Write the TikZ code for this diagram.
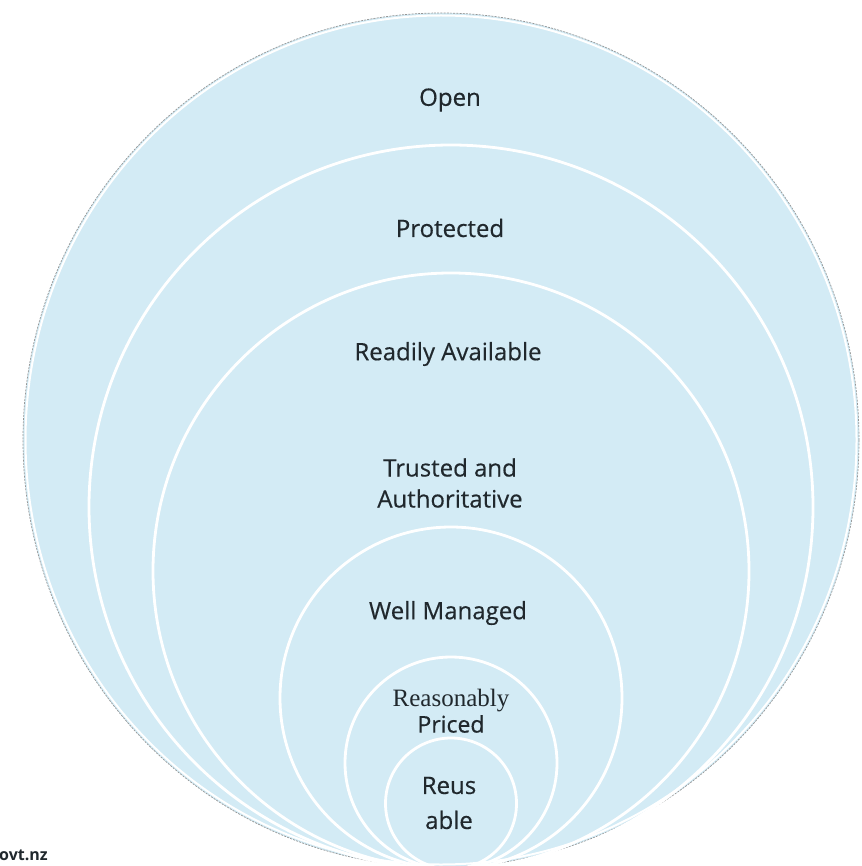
\documentclass[tikz,border=0pt]{standalone}
\usepackage{fontspec}
\setmainfont{Open Sans}
\newfontfamily\rpserif{Liberation Serif}
\definecolor{ringfill}{RGB}{211,235,245}
\definecolor{ringtext}{RGB}{32,40,45}
\definecolor{rimgray}{RGB}{150,150,150}
\begin{document}
\begin{tikzpicture}[x=1pt,y=-1pt,
  ring/.style={draw=white, line width=2.8pt},
  lbl/.style={text=ringtext, font=\fontsize{24}{31}\selectfont\addfontfeature{FakeBold=0.4}, align=center, inner sep=0pt, anchor=center}]
\useasboundingbox (0,0) rectangle (861,866);
\begin{scope}
\clip (0,0) rectangle (861,866);
\fill[ringfill] (441,440) ellipse[x radius=418pt, y radius=427pt];
\draw[white, line width=2pt] (441,440) ellipse[x radius=415.5pt, y radius=424.5pt];
\draw[rimgray, line width=0.7pt, dash pattern=on 2pt off 1.2pt] (441,440) ellipse[x radius=418pt, y radius=427pt];
\draw[ring] (451,507) circle[radius=362pt];
\draw[ring] (451,571) circle[radius=298pt];
\draw[ring] (451,698) circle[radius=171pt];
\draw[ring] (451,763) circle[radius=106pt];
\draw[ring] (451,803.5) circle[radius=65.5pt];
\end{scope}
\node[lbl] (open) at (450,100) {Open};
\node[lbl] (protected) at (450,228) {Protected};
\node[lbl] (readily) at (448,354) {Readily Available};
\node[lbl] (trusted) at (450,483) {Trusted and\\Authoritative};
\node[lbl] (well) at (448,613) {Well Managed};
\node[lbl, font=\fontsize{23}{26}\selectfont\addfontfeature{FakeBold=0.4}] (priced) at (451,711) {{\rpserif\fontsize{25}{26}\selectfont Reasonably}\\Priced};
\node[lbl, font=\fontsize{24}{35}\selectfont\addfontfeature{FakeBold=0.4}] (reusable) at (449,803) {Reus\\able};
\node[text=ringtext, font=\bfseries\fontsize{16}{18}\selectfont, inner sep=0pt, anchor=west] (govt) at (-1,855) {ovt.nz};
\end{tikzpicture}
\end{document}
